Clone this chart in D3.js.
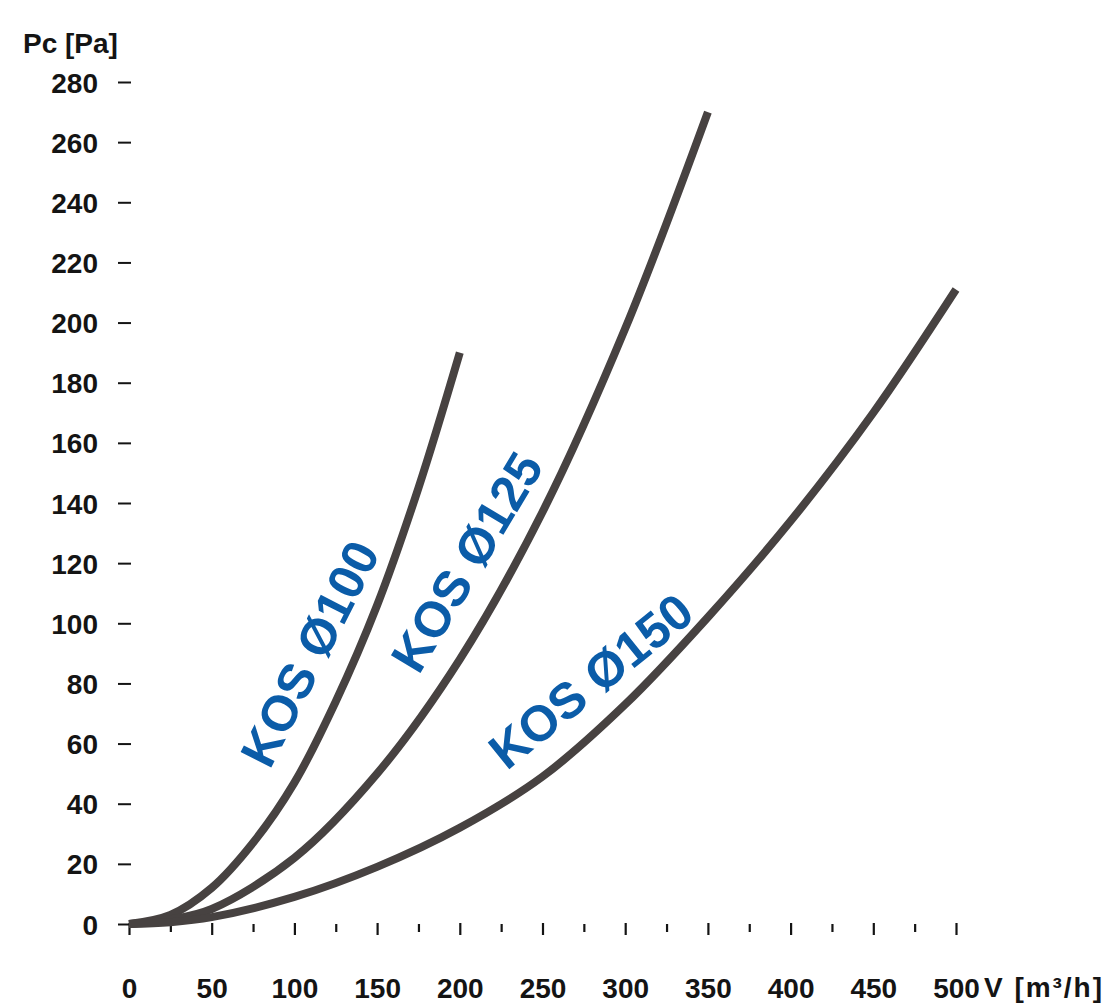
<!DOCTYPE html>
<html>
<head>
<meta charset="utf-8">
<script src="https://cdn.jsdelivr.net/npm/d3@7"></script>
<style>
  html, body { margin: 0; padding: 0; background: #fff; }
  svg { display: block; }
  text { font-family: "Liberation Sans", Arial, Helvetica, sans-serif; font-weight: bold; }
</style>
</head>
<body>
<svg id="chart" width="1110" height="1007"></svg>
<script>
// ---- data ----
const seriesNames = ["KOS Ø100", "KOS Ø125", "KOS Ø150"];
const kos100V = [0, 25, 50, 75, 100, 125, 150, 175, 200];
const kos100P = [0, 3, 12, 27, 47, 74, 106, 145, 190];
const kos125V = [0, 25, 50, 100, 150, 200, 250, 300, 350];
const kos125P = [0, 1.5, 5, 22, 50, 88, 137, 198, 270];
const kos150V = [0, 25, 50, 100, 150, 200, 250, 300, 350, 400, 450, 500];
const kos150P = [0, 0.6, 2.3, 9, 19, 32, 49, 73, 102, 134, 170, 211];
const yTicks = [0, 20, 40, 60, 80, 100, 120, 140, 160, 180, 200, 220, 240, 260, 280];
const xMajorTicks = [0, 50, 100, 150, 200, 250, 300, 350, 400, 450, 500];
const xMinorTicks = [25, 75, 125, 175, 225, 275, 325, 375, 425, 475];
const yTitle = "Pc [Pa]";
const xTitle = "V [m³/h]";
// label anchor (data coords) and angle for each curve label
const labelV = [109, 204, 279];
const labelP = [90, 120.5, 81];
const labelAngle = [-63, -59, -39];

// ---- layout ----
const svg = d3.select("#chart");
const x = d3.scaleLinear().domain([0, 500]).range([129, 956]);
const y = d3.scaleLinear().domain([0, 280]).range([924, 82]);
const ink = "#141414";
const lineColor = "#474241";
const blue = "#0b5ca8";

// y axis: short dashes + labels
const yAxis = d3.axisLeft(y).tickValues(yTicks).tickSize(13).tickPadding(20).tickFormat(d3.format("d"));
const gy = svg.append("g").attr("transform", "translate(131,0)").call(yAxis);
gy.select(".domain").remove();
gy.selectAll(".tick line").attr("stroke", ink).attr("stroke-width", 2);
gy.selectAll(".tick text").attr("fill", ink).attr("font-size", 28).attr("dy", "0.36em")
  .attr("font-family", "Liberation Sans, Arial, sans-serif").attr("font-weight", "bold");

// x axis: major ticks with labels, minor ticks
const xAxis = d3.axisBottom(x).tickValues(xMajorTicks).tickSize(12).tickPadding(43).tickFormat(d3.format("d"));
const gx = svg.append("g").attr("transform", "translate(0,923)").call(xAxis);
gx.select(".domain").remove();
gx.selectAll(".tick line").attr("stroke", ink).attr("stroke-width", 2.2);
gx.selectAll(".tick text").attr("fill", ink).attr("font-size", 28)
  .attr("font-family", "Liberation Sans, Arial, sans-serif").attr("font-weight", "bold");

const xAxisMinor = d3.axisBottom(x).tickValues(xMinorTicks).tickSize(8).tickFormat("");
const gxm = svg.append("g").attr("transform", "translate(0,924)").call(xAxisMinor);
gxm.select(".domain").remove();
gxm.selectAll(".tick line").attr("stroke", ink).attr("stroke-width", 2.2);

// titles
svg.append("text").attr("x", 23).attr("y", 53).attr("font-size", 28).attr("fill", ink).text(yTitle);
svg.append("text").attr("x", 984).attr("y", 997).attr("font-size", 28).attr("fill", ink)
  .attr("textLength", 118).attr("lengthAdjust", "spacing").text(xTitle);

// curves
const series = [
  kos100V.map((v, i) => [v, kos100P[i]]),
  kos125V.map((v, i) => [v, kos125P[i]]),
  kos150V.map((v, i) => [v, kos150P[i]])
];
const line = d3.line().x(d => x(d[0])).y(d => y(d[1])).curve(d3.curveCatmullRom.alpha(0.5));
svg.append("g").selectAll("path").data(series).join("path")
  .attr("d", line)
  .attr("fill", "none")
  .attr("stroke", lineColor)
  .attr("stroke-width", 8)
  .attr("stroke-linecap", "butt")
  .attr("stroke-linejoin", "round");

// labels
svg.append("g").selectAll("text").data(seriesNames).join("text")
  .attr("transform", (d, i) => `translate(${x(labelV[i])},${y(labelP[i])}) rotate(${labelAngle[i]})`)
  .attr("text-anchor", "middle")
  .attr("dy", "0.36em")
  .attr("font-size", 50)
  .attr("fill", blue)
  .text(d => d);
</script>
</body>
</html>
